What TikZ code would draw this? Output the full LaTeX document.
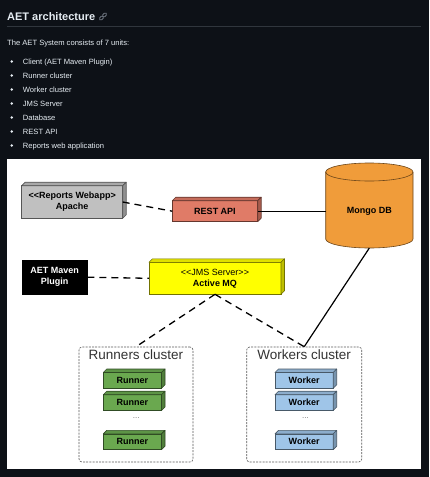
\documentclass[tikz,border=0pt]{standalone}
\usepackage{fontspec}
\setmainfont{Liberation Sans}
\usepackage{xcolor}
\usetikzlibrary{calc}

\definecolor{pagebg}{HTML}{0D1117}
\definecolor{pagetext}{HTML}{E6EDF3}
\definecolor{pagerule}{HTML}{30363D}
\definecolor{linkgray}{HTML}{6E7681}
\definecolor{webappfill}{HTML}{C0C0C0}
\definecolor{restfill}{HTML}{E07B67}
\definecolor{mongofill}{HTML}{F09C3A}
\definecolor{jmsfill}{HTML}{FFFF00}
\definecolor{runnerfill}{HTML}{6AA84F}
\definecolor{workerfill}{HTML}{9FC5E8}

\tikzset{
	pagetxt/.style={text=pagetext, inner sep=0pt, anchor=base west},
	unitbox/.style={fill=#1, draw=#1!45!black, line width=0.6pt, inner sep=0pt, outer sep=0pt,
		align=center, font=\fontsize{9}{11}\selectfont\bfseries},
	cluster/.style={draw=black!65, line width=0.6pt, dash pattern=on 2pt off 1.2pt,
		rounded corners=3pt, inner sep=0pt},
	clustertitle/.style={text=black!80, inner sep=0pt, font=\fontsize{13.5}{16}\selectfont},
	dashlink/.style={line width=1.3pt, dash pattern=on 7pt off 5pt},
	solidlink/.style={line width=1.2pt}
}

\begin{document}
\begin{tikzpicture}[x=1pt, y=-1pt]
	% Settings
	\pgfmathsetmacro{\depth}{3.5}
	% /Settings
	\useasboundingbox (0,0) rectangle (429,477);
	\fill[pagebg] (0,0) rectangle (429,477);
	% page text
	\node[pagetxt, font=\fontsize{11}{13}\selectfont\bfseries] (title) at (7,20) {AET architecture};
	\node[draw=linkgray, line width=0.8pt, rounded corners=1.3pt, minimum width=5pt, minimum height=2.8pt,
		inner sep=0pt, rotate=45] (linkA) at (101.5,18) {};
	\node[draw=linkgray, line width=0.8pt, rounded corners=1.3pt, minimum width=5pt, minimum height=2.8pt,
		inner sep=0pt, rotate=45] (linkB) at (104.5,15) {};
	\draw[pagerule, line width=0.8pt] (7,26) -- (421,26);
	\node[pagetxt, font=\fontsize{7.6}{9}\selectfont] (intro) at (7,45) {The AET System consists of 7 units:};
	\foreach \unit [count=\i] in {Client (AET Maven Plugin), Runner cluster, Worker cluster, JMS Server,
		Database, REST API, Reports web application} {
		\pgfmathsetmacro{\ybase}{50.5+\i*14}
		\node[pagetxt, font=\fontsize{7.6}{9}\selectfont] (unit\i) at (22.7,\ybase) {\unit};
		\fill[pagetext] (11.7,\ybase-3) circle[radius=1.4pt];
	}
	% diagram
	\fill[white] (7,159) rectangle (421,469);
	\node[unitbox=webappfill, minimum width=101pt, minimum height=32.6pt] (webapp) at (72.2,202)
		{<{}<Reports Webapp>\\Apache};
	\node[unitbox=restfill, minimum width=85.4pt, minimum height=21pt] (rest) at (215,211.2) {REST API};
	\node[unitbox=jmsfill, minimum width=132pt, minimum height=32pt] (jms) at (215,278.3)
		{{\mdseries <{}<JMS Server>{}>}\\Active MQ};
	\node[fill=black, draw=black, text=white, inner sep=0pt, outer sep=0pt, align=center,
		font=\fontsize{9}{11}\selectfont\bfseries, minimum width=65.3pt, minimum height=34.3pt] (maven)
		at (54.7,277.2) {AET Maven\\Plugin};
	% mongo cylinder
	\node[minimum width=87.3pt, minimum height=85pt, inner sep=0pt, outer sep=0pt] (mongo) at (369.35,205.5) {};
	\filldraw[fill=mongofill, draw=mongofill!45!black, line width=0.6pt]
		($(mongo.north west)+(0,9)$) -- ($(mongo.south west)+(0,-9)$)
		arc[start angle=180, end angle=360, x radius=43.65pt, y radius=9pt]
		-- ($(mongo.north east)+(0,9)$)
		arc[start angle=0, end angle=180, x radius=43.65pt, y radius=9pt] -- cycle;
	\draw[draw=mongofill!45!black, line width=0.6pt] ($(mongo.north west)+(0,9)$)
		arc[start angle=180, end angle=360, x radius=43.65pt, y radius=9pt];
	\node[font=\fontsize{9}{11}\selectfont\bfseries, inner sep=0pt] (mongolabel) at ($(mongo.center)+(0,6)$) {Mongo DB};
	% clusters
	\node[cluster, minimum width=114pt, minimum height=115pt] (runners) at (136,404.5) {};
	\node[clustertitle] (runnerstitle) at (136,355) {Runners cluster};
	\node[cluster, minimum width=115pt, minimum height=115pt] (workers) at (304.2,404.5) {};
	\node[clustertitle] (workerstitle) at (304.2,355) {Workers cluster};
	\foreach \name/\y in {A/380.4, B/402.6, C/441.75} {
		\node[unitbox=runnerfill, minimum width=58.2pt, minimum height=15.8pt] (runner\name) at (132.4,\y) {Runner};
		\node[unitbox=workerfill, minimum width=58.2pt, minimum height=15.8pt] (worker\name) at (304.1,\y) {Worker};
	}
	\node[text=black!55, font=\fontsize{8}{10}\selectfont, inner sep=0pt] (runnerdots) at (136.2,418) {...};
	\node[text=black!55, font=\fontsize{8}{10}\selectfont, inner sep=0pt] (workerdots) at (305.5,418) {...};
	% 3d faces
	\foreach \n/\c in {webapp/webappfill, rest/restfill, jms/jmsfill, runnerA/runnerfill, runnerB/runnerfill,
		runnerC/runnerfill, workerA/workerfill, workerB/workerfill, workerC/workerfill} {
		\filldraw[fill=\c!88!black, draw=\c!45!black, line width=0.6pt, line join=round]
			(\n.north west) -- ++(\depth,-\depth) -- ($(\n.north east)+(\depth,-\depth)$) -- (\n.north east) -- cycle;
		\filldraw[fill=\c!75!black, draw=\c!45!black, line width=0.6pt, line join=round]
			(\n.north east) -- ++(\depth,-\depth) -- ($(\n.south east)+(\depth,-\depth)$) -- (\n.south east) -- cycle;
	}
	% connectors
	\draw[dashlink] (webapp.east) -- (rest.west);
	\draw[dashlink] (maven.east) -- (jms.west);
	\draw[dashlink] (jms.south) -- (runners.north);
	\draw[dashlink] (jms.south) -- (workers.north);
	\draw[solidlink] (rest.east) -- (rest.east -| mongo.west);
	\draw[solidlink] (mongo.south) -- (workers.north);
\end{tikzpicture}
\end{document}
